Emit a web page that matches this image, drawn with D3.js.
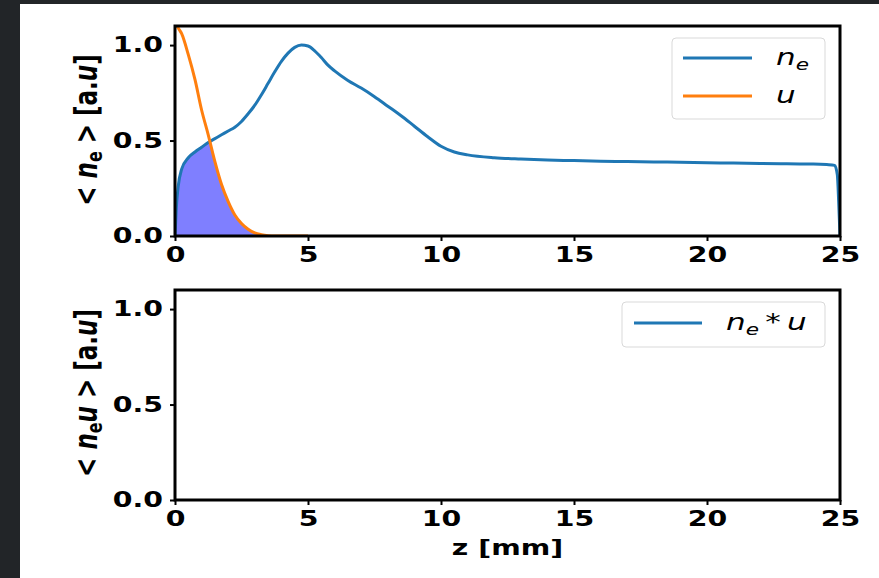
<!DOCTYPE html>
<html>
<head>
<meta charset="utf-8">
<script src="https://cdn.jsdelivr.net/npm/d3@7"></script>
<style>
  body { margin: 0; background: #fff; }
  svg { display: block; }
</style>
</head>
<body>
<div id="chart"></div>
<script>
// z grid [mm] shared by both top-panel series
const zVals = [0, 0.05, 0.12, 0.25, 0.5, 0.75, 1.0, 1.25, 1.5, 1.75, 2.0, 2.25, 2.5, 2.75, 3.0, 3.25, 3.5, 3.75,
  4.0, 4.25, 4.5, 4.75, 5.0, 5.25, 5.5, 5.75, 6.0, 6.5, 7, 7.5, 8, 8.5, 9, 9.5, 10, 10.5, 11, 12, 13, 14, 15,
  16, 17, 18, 19, 20, 21, 22, 23, 24, 24.5, 24.8, 24.9, 24.95, 25];
const neVals = [0, 0.15, 0.26, 0.35, 0.41, 0.44, 0.465, 0.49, 0.51, 0.53, 0.55, 0.57, 0.60, 0.64, 0.685, 0.74, 0.80, 0.86,
  0.915, 0.958, 0.988, 1.0, 0.995, 0.97, 0.935, 0.895, 0.865, 0.815, 0.775, 0.73, 0.68, 0.63, 0.575, 0.52, 0.47, 0.44, 0.425,
  0.41, 0.403, 0.398, 0.395, 0.392, 0.39, 0.388, 0.386, 0.384, 0.382, 0.38, 0.378, 0.377, 0.374, 0.37, 0.32, 0.18, 0];
const uVals = [1.12, 1.11, 1.09, 1.06, 0.95, 0.82, 0.66, 0.53, 0.39, 0.27, 0.18, 0.11, 0.065, 0.035, 0.016, 0.007, 0.002, 0,
  0, 0, 0, 0, 0, 0, 0, 0, 0, 0, 0, 0, 0, 0, 0, 0, 0, 0, 0, 0, 0, 0, 0, 0, 0, 0, 0, 0, 0, 0, 0, 0, 0, 0, 0, 0, 0];
const xTicks = [0, 5, 10, 15, 20, 25];
const yTicks = [0.0, 0.5, 1.0];

const W = 879, H = 578;
const left = 175, right = 840;
const panels = [{ top: 26, bottom: 236 }, { top: 290, bottom: 500 }];
const SX = 1.35; // horizontal text stretch seen in the picture

const svg = d3.select("#chart").append("svg").attr("width", W).attr("height", H);

// dark strips around the picture
svg.append("rect").attr("x", 0).attr("y", 0).attr("width", W).attr("height", 4).attr("fill", "#222528");
svg.append("rect").attr("x", 0).attr("y", 0).attr("width", 20).attr("height", H).attr("fill", "#222528");

const x = d3.scaleLinear().domain([0, 25]).range([left, right]);

function styleAxis(g, isLeft) {
  g.select(".domain").remove();
  g.selectAll(".tick line").attr("stroke", "#000").attr("stroke-width", 2);
  g.selectAll(".tick text")
    .attr("fill", "#000")
    .style("font-family", "DejaVu Sans")
    .style("font-weight", "bold")
    .style("font-size", "21px")
    .attr("transform", `scale(${SX},1)`);
  if (isLeft) g.selectAll(".tick text").attr("x", -12 / SX);
}

const ys = panels.map(p => d3.scaleLinear().domain([0, 1.1]).range([p.bottom, p.top]));

panels.forEach((p, i) => {
  const y = ys[i];
  svg.append("clipPath").attr("id", "clip" + i)
    .append("rect").attr("x", left).attr("y", p.top).attr("width", right - left).attr("height", p.bottom - p.top);

  const gx = svg.append("g").attr("transform", `translate(0,${p.bottom})`)
    .call(d3.axisBottom(x).tickValues(xTicks).tickSize(5).tickPadding(6).tickFormat(d3.format("d")));
  styleAxis(gx, false);
  const gy = svg.append("g").attr("transform", `translate(${left},0)`)
    .call(d3.axisLeft(y).tickValues(yTicks).tickSize(5).tickFormat(d3.format(".1f")));
  styleAxis(gy, true);
});

// top panel: filled overlap, then curves
const y0 = ys[0];
const pts = zVals.map((z, i) => ({ z, ne: neVals[i], u: uVals[i] }));
const plot = svg.append("g").attr("clip-path", "url(#clip0)");

const fillPts = pts.filter(d => d.z <= 4);
plot.append("path").datum(fillPts)
  .attr("fill", "#7f7fff")
  .attr("d", d3.area().x(d => x(d.z)).y0(y0(0)).y1(d => y0(Math.min(d.ne, d.u))).curve(d3.curveMonotoneX));

plot.append("path").datum(pts)
  .attr("fill", "none").attr("stroke", "#1f77b4").attr("stroke-width", 3)
  .attr("d", d3.line().x(d => x(d.z)).y(d => y0(d.ne)).curve(d3.curveMonotoneX));

plot.append("path").datum(pts.filter(d => d.z <= 5))
  .attr("fill", "none").attr("stroke", "#ff7f0e").attr("stroke-width", 3)
  .attr("d", d3.line().x(d => x(d.z)).y(d => y0(d.u)).curve(d3.curveMonotoneX));

// frames
panels.forEach(p => {
  svg.append("rect").attr("x", left).attr("y", p.top).attr("width", right - left).attr("height", p.bottom - p.top)
    .attr("fill", "none").attr("stroke", "#000").attr("stroke-width", 3);
});

// axis labels
function yLabel(cy, withU) {
  const t = svg.append("text")
    .attr("transform", `translate(97,${cy}) rotate(-90) scale(1,${SX})`)
    .attr("text-anchor", "middle")
    .style("font-family", "DejaVu Sans").style("font-weight", "bold").style("font-size", "23px");
  t.append("tspan").text("< ");
  t.append("tspan").attr("font-style", "italic").text("n");
  t.append("tspan").attr("font-size", "16px").attr("dy", 4).text("e");
  if (withU) t.append("tspan").attr("font-style", "italic").attr("dy", -4).text("u");
  t.append("tspan").attr("dy", withU ? 0 : -4).text(" > [a.");
  t.append("tspan").attr("font-style", "italic").text("u");
  t.append("tspan").text("]");
}
yLabel(130, false);
yLabel(393, true);

svg.append("text")
  .attr("transform", `translate(${(left + right) / 2},555) scale(${SX},1)`)
  .attr("text-anchor", "middle")
  .style("font-family", "DejaVu Sans").style("font-weight", "bold").style("font-size", "21px")
  .text("z [mm]");

// legends
function legendText(xp, yp, parts) {
  const t = svg.append("text")
    .attr("transform", `translate(${xp},${yp}) scale(${SX},1)`)
    .style("font-family", "DejaVu Sans").style("font-size", "23px");
  parts.forEach(pt => {
    const s = t.append("tspan").text(pt.t);
    if (pt.it) s.attr("font-style", "italic");
    if (pt.sub) s.attr("font-size", "16px").attr("dy", 5);
    if (pt.up) s.attr("dy", -5);
  });
}

svg.append("rect").attr("x", 672).attr("y", 38).attr("width", 153).attr("height", 81).attr("rx", 4)
  .attr("fill", "#fff").attr("stroke", "#d9d9d9").attr("stroke-width", 1);
svg.append("line").attr("x1", 683).attr("x2", 752).attr("y1", 58).attr("y2", 58).attr("stroke", "#1f77b4").attr("stroke-width", 3);
svg.append("line").attr("x1", 683).attr("x2", 752).attr("y1", 96).attr("y2", 96).attr("stroke", "#ff7f0e").attr("stroke-width", 3);
legendText(776, 65, [{ t: "n", it: true }, { t: "e", it: true, sub: true }]);
legendText(776, 103, [{ t: "u", it: true }]);

svg.append("rect").attr("x", 622).attr("y", 302).attr("width", 203).attr("height", 45).attr("rx", 4)
  .attr("fill", "#fff").attr("stroke", "#d9d9d9").attr("stroke-width", 1);
svg.append("line").attr("x1", 634).attr("x2", 702).attr("y1", 323).attr("y2", 323).attr("stroke", "#1f77b4").attr("stroke-width", 3);
legendText(726, 330, [{ t: "n", it: true }, { t: "e", it: true, sub: true }, { t: "\u2009*\u2009", up: true }, { t: "u", it: true }]);
</script>
</body>
</html>
